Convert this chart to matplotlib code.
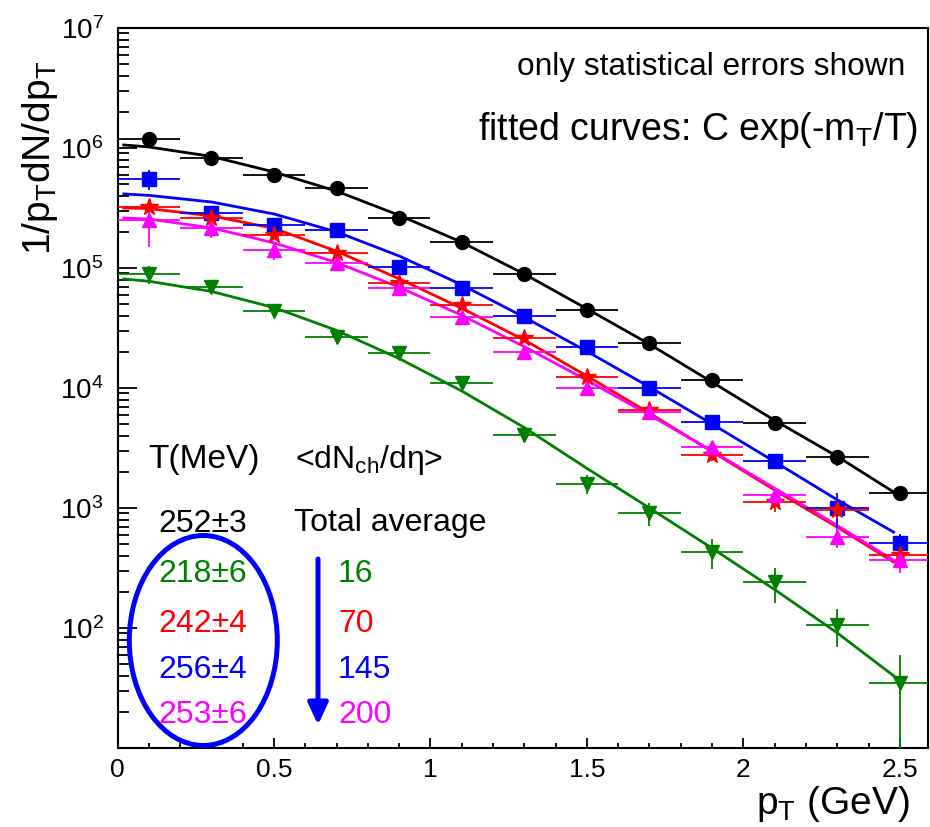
import matplotlib.pyplot as plt
from matplotlib.patches import Ellipse, FancyArrowPatch
from matplotlib.ticker import MultipleLocator, LogLocator, NullFormatter

plt.rcParams['font.family'] = ['Liberation Sans', 'DejaVu Sans']
plt.rcParams['mathtext.fontset'] = 'custom'
plt.rcParams['mathtext.rm'] = 'Liberation Sans'
plt.rcParams['mathtext.it'] = 'Liberation Sans:italic'
plt.rcParams['mathtext.default'] = 'regular'

# pT bin centres (GeV), bin half width
pt = [0.1, 0.3, 0.5, 0.7, 0.9, 1.1, 1.3, 1.5, 1.7, 1.9, 2.1, 2.3, 2.5]
pt_half = 0.1

fit_pt = [0.02, 0.1, 0.3, 0.5, 0.7, 0.9, 1.1, 1.3, 1.5, 1.7, 1.9, 2.1, 2.3, 2.48]

# total average (black)
tot_y = [1.19e6, 8.3e5, 5.96e5, 4.6e5, 2.6e5, 1.65e5, 8.9e4, 4.47e4, 2.37e4, 1.17e4, 5.1e3, 2.66e3, 1.33e3]
tot_err = [1.5e5, 4e4, 3e4, 2e4, 1e4, 6e3, 3e3, 1.5e3, 8e2, 4e2, 3e2, 4e2, 1.5e2]
tot_fit = [1.06e6, 1.02e6, 8.51e5, 6.31e5, 4.37e5, 2.75e5, 1.64e5, 8.91e4, 4.57e4, 2.32e4, 1.12e4, 5.37e3, 2.69e3, 1.36e3]

# <dNch/deta> = 16 (green)
m16_y = [8.9e4, 6.9e4, 4.4e4, 2.66e4, 1.96e4, 1.1e4, 4.06e3, 1.6e3, 9.1e2, 4.3e2, 2.4e2, 1.06e2, 35]
m16_err = [1.5e4, 8e3, 5e3, 3e3, 2e3, 1.2e3, 5e2, 3e2, 2e2, 1.2e2, 77, 37, 25]
m16_fit = [8.09e4, 7.76e4, 6.38e4, 4.68e4, 3.02e4, 1.76e4, 9.44e3, 4.68e3, 2.14e3, 1.0e3, 4.62e2, 2.09e2, 91, 40]

# <dNch/deta> = 70 (red)
m70_y = [3.2e5, 2.6e5, 1.88e5, 1.33e5, 7.5e4, 4.9e4, 2.6e4, 1.24e4, 6.5e3, 2.75e3, 1.12e3, 9.6e2, 4.06e2]
m70_err = [5e4, 2e4, 1.5e4, 1e4, 5e3, 3e3, 1.5e3, 8e2, 5e2, 3e2, 2e2, 1.5e2, 60]
m70_fit = [3.16e5, 3.13e5, 2.72e5, 2.14e5, 1.38e5, 8.13e4, 4.62e4, 2.51e4, 1.26e4, 6.17e3, 2.95e3, 1.41e3, 6.92e2, 3.55e2]

# <dNch/deta> = 145 (blue)
m145_y = [5.5e5, 2.87e5, 2.3e5, 2.07e5, 1.02e5, 6.8e4, 3.98e4, 2.2e4, 1.0e4, 5.2e3, 2.46e3, 1.0e3, 5.1e2]
m145_err = [1e5, 3e4, 2e4, 1.5e4, 8e3, 5e3, 3e3, 1.5e3, 8e2, 4e2, 2.5e2, 3.3e2, 1e2]
m145_fit = [4.14e5, 4.03e5, 3.55e5, 2.82e5, 2.0e5, 1.26e5, 7.24e4, 3.89e4, 2.02e4, 1.02e4, 5.01e3, 2.43e3, 1.17e3, 6.3e2]

# <dNch/deta> = 200 (magenta)
m200_y = [2.5e5, 2.15e5, 1.41e5, 1.1e5, 6.8e4, 3.9e4, 2.0e4, 1.0e4, 6.3e3, 3.2e3, 1.28e3, 5.7e2, 3.7e2]
m200_err = [1e5, 3.6e4, 2.5e4, 1.2e4, 6e3, 3.5e3, 1.8e3, 9e2, 5e2, 3e2, 1.5e2, 1.1e2, 80]
m200_fit = [2.61e5, 2.56e5, 2.16e5, 1.62e5, 1.11e5, 6.92e4, 4.03e4, 2.21e4, 1.16e4, 5.96e3, 2.99e3, 1.46e3, 7.16e2, 3.67e2]

temp_labels = ['252±3', '218±6', '242±4', '256±4', '253±6']
mult_labels = ['16', '70', '145', '200']
xtick_vals = [0, 0.5, 1, 1.5, 2, 2.5]
xtick_labels = ['0', '0.5', '1', '1.5', '2', '2.5']
ytick_vals = [1e2, 1e3, 1e4, 1e5, 1e6, 1e7]

green = '#008000'
series = [
    (tot_y, tot_err, tot_fit, 'black', 'o', 10),
    (m145_y, m145_err, m145_fit, 'blue', 's', 10),
    (m70_y, m70_err, m70_fit, 'red', '*', 13),
    (m200_y, m200_err, m200_fit, 'magenta', '^', 10),
    (m16_y, m16_err, m16_fit, green, 'v', 10),
]

W, H = 930, 827
fig = plt.figure(figsize=(W / 100, H / 100), dpi=100)
ax = fig.add_axes([117.5 / W, 1 - 748 / H, 810.5 / W, 720 / H])

for y, err, fit, col, mk, ms in series:
    ax.plot(fit_pt, fit, color=col, lw=2.0, zorder=2)
    ax.errorbar(pt, y, xerr=pt_half, yerr=err, fmt=mk, color=col, ms=ms,
                elinewidth=1.3, capsize=0, zorder=3)

ax.set_yscale('log')
ax.set_xlim(0, 2.59)
ax.set_ylim(10, 1e7)
ax.set_yticks(ytick_vals)
ax.yaxis.set_minor_locator(LogLocator(base=10, subs=range(2, 10), numticks=20))
ax.yaxis.set_minor_formatter(NullFormatter())
ax.set_xticks(xtick_vals, xtick_labels)
ax.xaxis.set_minor_locator(MultipleLocator(0.1))

for s in ax.spines.values():
    s.set_linewidth(1.5)
ax.tick_params(which='both', direction='in', top=False, right=False, width=1.3)
ax.tick_params(axis='y', which='major', length=13.5, pad=10, labelsize=20)
ax.tick_params(axis='y', which='minor', length=8)
ax.tick_params(axis='x', which='major', length=7, pad=7, labelsize=19)
ax.tick_params(axis='x', which='minor', length=3.6)

fig.text(40 / W, 1 - 158 / H, '1/p$_{T}$dN/dp$_{T}$', fontsize=28,
         rotation=90, ha='center', va='center')
ax.set_xlabel('p$_{T}$ (GeV)', fontsize=28, ha='right')
ax.xaxis.set_label_coords(0.978, -0.05)

fig.text(905 / W, 1 - 75 / H, 'only statistical errors shown', fontsize=22.8,
         ha='right', va='baseline')
fig.text(918 / W, 1 - 140 / H, 'fitted curves: C exp(-m$_{T}$/T)', fontsize=27,
         ha='right', va='baseline')

# legend block
fs = 23
fig.text(204 / W, 1 - 468 / H, 'T(MeV)', fontsize=24, ha='center', va='baseline')
fig.text(295 / W, 1 - 468 / H, '<dN$_{ch}$/dη>', fontsize=fs, ha='left', va='baseline')
fig.text(294 / W, 1 - 531 / H, 'Total average', fontsize=fs, ha='left', va='baseline')

temp_cols = ['black', green, 'red', 'blue', 'magenta']
temp_base = [532, 582, 632, 678, 723]
for lab, col, yb in zip(temp_labels, temp_cols, temp_base):
    fig.text(203 / W, 1 - yb / H, lab, fontsize=fs, color=col, ha='center', va='baseline')
for lab, col, yb in zip(mult_labels, temp_cols[1:], temp_base[1:]):
    fig.text(338 / W, 1 - yb / H, lab, fontsize=fs, color=col, ha='left', va='baseline')

fig.add_artist(Ellipse((203.3 / W, 1 - 640.5 / H), 148 / W, 210 / H,
                       transform=fig.transFigure, fill=False, ec='blue', lw=3.6))
fig.add_artist(FancyArrowPatch((318 / W, 1 - 559 / H), (318 / W, 1 - 725 / H),
                               transform=fig.transFigure,
                               arrowstyle='-|>,head_length=13,head_width=6',
                               mutation_scale=1, lw=3.6, color='blue',
                               shrinkA=0, shrinkB=0))

fig.savefig('out.png', dpi=100)
